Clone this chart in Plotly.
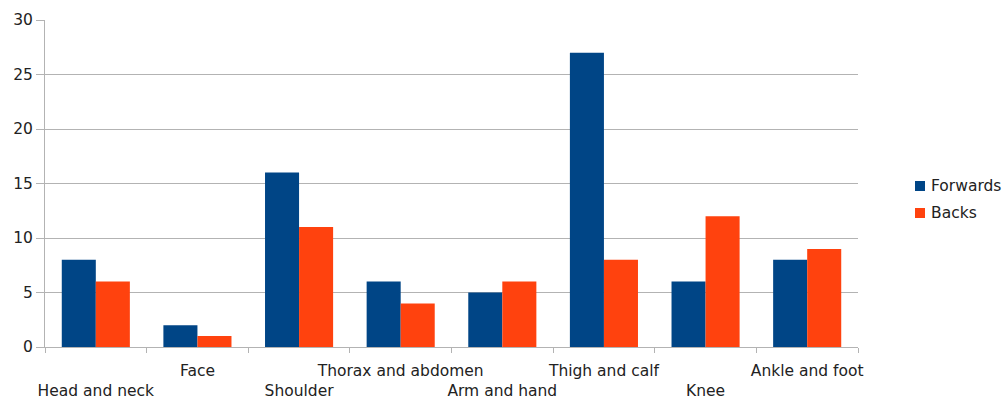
import plotly.graph_objects as go

# Injury counts by body region for forwards and backs
regions = ["Head and neck", "Face", "Shoulder", "Thorax and abdomen",
           "Arm and hand", "Thigh and calf", "Knee", "Ankle and foot"]
forwards = [8, 2, 16, 6, 5, 27, 6, 8]
backs = [6, 1, 11, 4, 6, 8, 12, 9]
y_ticks = [0, 5, 10, 15, 20, 25, 30]

series_names = ["Forwards", "Backs"]
series_colors = ["#004586", "#ff420e"]

# Alternate category labels between an upper and a lower row
tick_text = [r if i % 2 else " <br>" + r for i, r in enumerate(regions)]

FONT = "DejaVu Sans"
TEXT = "#222222"
W, H = 1006, 401
ML, MR, MT, MB = 45, 148, 20, 54
PW, PH = W - ML - MR, H - MT - MB

fig = go.Figure()
for name, vals, col in zip(series_names, [forwards, backs], series_colors):
    fig.add_bar(name=name, x=regions, y=vals, marker_color=col,
                marker_line_width=0, showlegend=False)

# Legend drawn as swatches + labels to the right of the plot area
def px_x(px):
    return (px - ML) / PW

def px_y(py):
    return (H - MB - py) / PH

for i, (name, col) in enumerate(zip(series_names, series_colors)):
    cy = 186 + 27 * i
    fig.add_shape(type="rect", xref="paper", yref="paper",
                  x0=px_x(915), x1=px_x(925), y0=px_y(cy + 5), y1=px_y(cy - 5),
                  fillcolor=col, line_width=0)
    fig.add_annotation(xref="paper", yref="paper", x=px_x(929), y=px_y(cy),
                       xanchor="left", yanchor="middle", showarrow=False,
                       text=name, font=dict(family=FONT, size=15.5, color=TEXT))

fig.update_layout(
    width=W, height=H,
    margin=dict(l=ML, r=MR, t=MT, b=MB),
    paper_bgcolor="white", plot_bgcolor="white",
    barmode="group", bargap=0.33, bargroupgap=0,
    font=dict(family=FONT, size=15.5, color=TEXT),
    showlegend=False,
)
fig.update_xaxes(
    type="category", tickmode="array", tickvals=regions, ticktext=tick_text,
    tickson="boundaries", ticks="outside", ticklen=5, tickcolor="#b3b3b3",
    ticklabelstandoff=9, automargin=False,
    showline=True, linecolor="#b3b3b3", linewidth=1, showgrid=False,
    tickangle=0,
)
fig.update_yaxes(
    range=[0, 30], tickmode="array", tickvals=y_ticks,
    ticks="outside", ticklen=8, tickcolor="#b3b3b3", automargin=False,
    showline=True, linecolor="#b3b3b3", linewidth=1,
    showgrid=True, gridcolor="#b3b3b3", gridwidth=1, zeroline=False,
)

fig.write_html("out.html")
